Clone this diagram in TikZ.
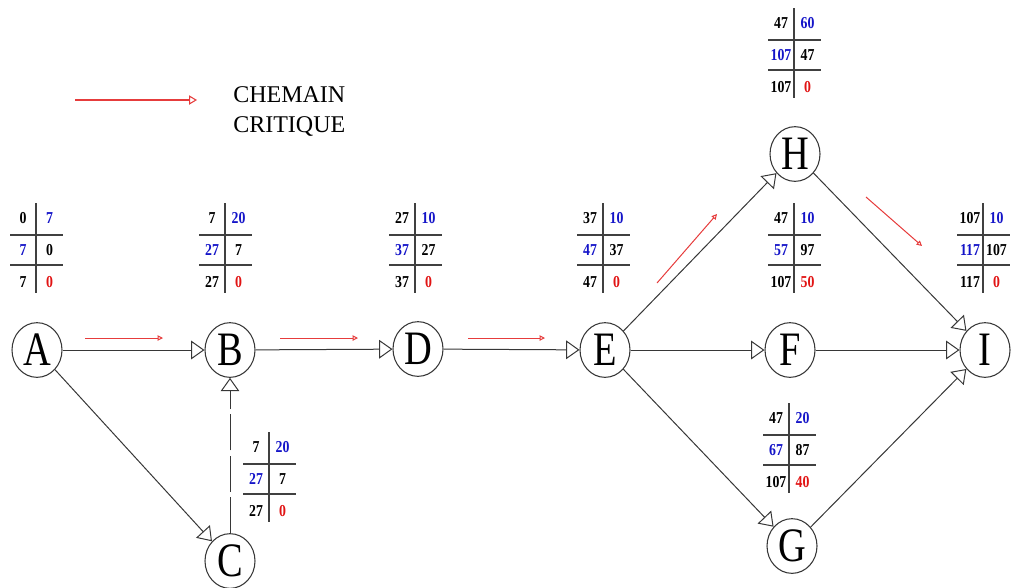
\documentclass[tikz,border=0pt]{standalone}
\usepackage{fontspec}
\setmainfont{Liberation Serif}
\usetikzlibrary{arrows.meta,shapes.geometric}
\definecolor{tblue}{RGB}{20,20,200}
\definecolor{tred}{RGB}{225,20,20}
\definecolor{critc}{RGB}{230,60,60}
\definecolor{edgec}{RGB}{55,55,55}
\tikzset{
  ev/.style={ellipse, draw=edgec, line width=0.8pt, minimum width=37.5pt, minimum height=41pt, inner sep=0pt, font=\fontsize{36}{36}\selectfont},
  act/.style={draw=edgec, line width=0.75pt, -{Triangle[open,length=10pt,width=14pt]}},
  actdash/.style={act, dash pattern=on 27pt off 4pt},
  crit/.style={draw=critc, line width=0.75pt, -{Triangle[open,length=4pt,width=4pt]}},
  legarrow/.style={draw=critc, line width=0.8pt, -{Triangle[open,length=6pt,width=7pt]}},
  gridl/.style={draw=black!75, line width=0.9pt},
  cc/.style={anchor=center, inner sep=0.5pt, font=\fontsize{12.5}{12.5}\selectfont\bfseries},
  legtext/.style={anchor=north west, inner sep=0pt, align=left, font=\fontsize{18}{22.5}\selectfont}
}
\newcommand\ltr[1]{\scalebox{0.8}[1]{#1}}
\newcommand\cel[1]{\scalebox{0.83}[1]{#1}}
% name, x, y, a, b, c, d, e, f
\newcommand\pertbox[9]{%
  \draw[gridl] (#2,#3-47) -- (#2,#3+43);
  \draw[gridl] (#2-26,#3-15) -- (#2+27,#3-15);
  \draw[gridl] (#2-26,#3+15) -- (#2+27,#3+15);
  \node[cc] (#1-a) at (#2-13,#3-32) {\cel{#4}};
  \node[cc,text=tblue] (#1-b) at (#2+13.5,#3-32) {\cel{#5}};
  \node[cc,text=tblue] (#1-c) at (#2-13,#3) {\cel{#6}};
  \node[cc] (#1-d) at (#2+13.5,#3) {\cel{#7}};
  \node[cc] (#1-e) at (#2-13,#3+32) {\cel{#8}};
  \node[cc,text=tred] (#1-f) at (#2+13.5,#3+32) {\cel{#9}};
}
\begin{document}
\begin{tikzpicture}[x=0.75pt,y=-0.75pt]
\useasboundingbox (0,0) rectangle (1016,587);

% events
\node[ev] (A) at (37,350) {\ltr{A}};
\node[ev] (B) at (230,350) {\ltr{B}};
\node[ev] (C) at (230,561) {\ltr{C}};
\node[ev] (D) at (418,349) {\ltr{D}};
\node[ev] (E) at (605,350) {\ltr{E}};
\node[ev] (F) at (790,350) {\ltr{F}};
\node[ev] (G) at (792,546) {\ltr{G}};
\node[ev] (H) at (795,154) {\ltr{H}};
\node[ev] (I) at (985,350) {\ltr{I}};

% activities
\draw[act] (A) -- (B);
\draw[act] (B) -- (D);
\draw[act] (D) -- (E);
\draw[act] (A) -- (C);
\draw[actdash] (C) -- (B);
\draw[act] (E) -- (H);
\draw[act] (E) -- (F);
\draw[act] (E) -- (G);
\draw[act] (H) -- (I);
\draw[act] (F) -- (I);
\draw[act] (G) -- (I);

% critical path markers
\coordinate (ab1) at (85,338);  \coordinate (ab2) at (163,338);
\coordinate (bd1) at (280,338); \coordinate (bd2) at (358,338);
\coordinate (de1) at (468,338); \coordinate (de2) at (545,338);
\coordinate (eh1) at (657,283); \coordinate (eh2) at (717,214);
\coordinate (hi1) at (866,197); \coordinate (hi2) at (922,246);
\draw[crit] (ab1) -- (ab2);
\draw[crit] (bd1) -- (bd2);
\draw[crit] (de1) -- (de2);
\draw[crit] (eh1) -- (eh2);
\draw[crit] (hi1) -- (hi2);

% legend
\coordinate (lg1) at (75,100); \coordinate (lg2) at (197,100);
\draw[legarrow] (lg1) -- (lg2);
\node[legtext] (legend) at (233,86) {CHEMAIN\\CRITIQUE};

% tables
\pertbox{tA}{36}{250}{0}{7}{7}{0}{7}{0}
\pertbox{tB}{225}{250}{7}{20}{27}{7}{27}{0}
\pertbox{tD}{415}{250}{27}{10}{37}{27}{37}{0}
\pertbox{tE}{603}{250}{37}{10}{47}{37}{47}{0}
\pertbox{tH}{794}{55}{47}{60}{107}{47}{107}{0}
\pertbox{tF}{794}{250}{47}{10}{57}{97}{107}{50}
\pertbox{tI}{983}{250}{107}{10}{117}{107}{117}{0}
\pertbox{tG}{789}{450}{47}{20}{67}{87}{107}{40}
\pertbox{tC}{269}{479}{7}{20}{27}{7}{27}{0}
\end{tikzpicture}
\end{document}
